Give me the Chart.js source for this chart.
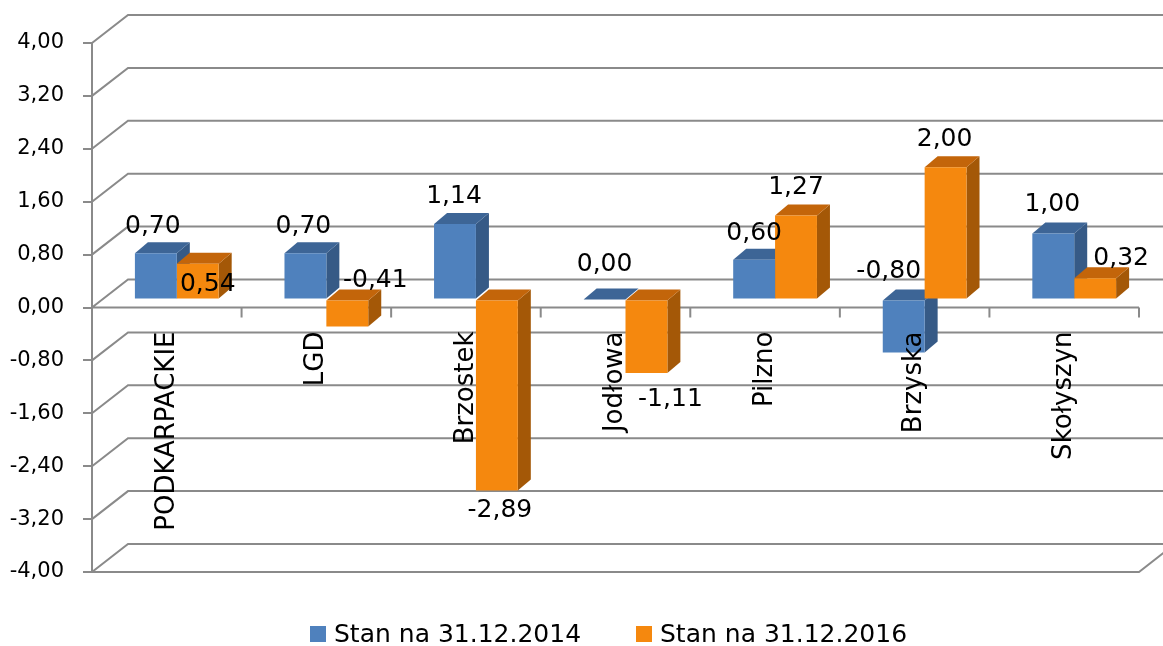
<!DOCTYPE html>
<html>
<head>
<meta charset="utf-8">
<script src="https://cdn.jsdelivr.net/npm/chart.js@4.4.1/dist/chart.umd.min.js"></script>
<style>
    html, body { margin: 0; padding: 0; background: #fff; }
    #wrap { width: 1163px; height: 646px; }
</style>
</head>
<body>
<div id="wrap"><canvas id="chart"></canvas></div>
<script>
// data
const categories = ['PODKARPACKIE', 'LGD', 'Brzostek', 'Jodłowa', 'Pilzno', 'Brzyska', 'Skołyszyn'];
const seriesNames = ['Stan na 31.12.2014', 'Stan na 31.12.2016'];
const stan2014 = [0.70, 0.70, 1.14, 0.00, 0.60, -0.80, 1.00];
const stan2016 = [0.54, -0.41, -2.89, -1.11, 1.27, 2.00, 0.32];
const yMin = -4;
const yMax = 4;
const yStep = 0.8;

// where Excel put each value label, relative to the end of its bar
const labelShift2014 = [[-3, -20], [-2, -20], [-1, -21], [0, -29], [0, -20], [-15, -74], [-1, -22]];
const labelShift2016 = [[10, 27], [28, -40], [3, 26], [24, 33], [0, -22], [-1, -21], [26, -13]];

const FONT = 'DejaVu Sans';
const GRID = '#8A8A8A';
const WALL = { dx: 36, dy: -28 };   // depth of the back wall
const SHIFT = { dx: 10, dy: -8 };   // bars stand in the middle of the floor
const BOX = { dx: 13, dy: -11 };    // depth of each bar

const faces = [
    { front: '#4F81BD', top: '#3D6596', side: '#365A86' },
    { front: '#F5880E', top: '#C3650A', side: '#A45807' }
];

const fmt = v => (Math.abs(v) < 1e-9 ? 0 : v).toFixed(2).replace('.', ',');

function drawWalls(chart) {
    const ctx = chart.ctx;
    const area = chart.chartArea;
    const y = chart.scales.y;
    ctx.save();
    ctx.strokeStyle = GRID;
    ctx.lineWidth = 2;
    ctx.beginPath();
    y.ticks.forEach(t => {
        const py = y.getPixelForValue(t.value);
        ctx.moveTo(area.left, py);
        ctx.lineTo(area.left + WALL.dx, py + WALL.dy);
        ctx.lineTo(area.right + WALL.dx, py + WALL.dy);
    });
    // floor front edge
    ctx.moveTo(area.left, area.bottom);
    ctx.lineTo(area.right, area.bottom);
    ctx.lineTo(area.right + WALL.dx, area.bottom + WALL.dy);
    // category axis at zero with its tick marks
    const zero = y.getPixelForValue(0);
    ctx.moveTo(area.left, zero);
    ctx.lineTo(area.right, zero);
    const step = (area.right - area.left) / categories.length;
    for (let i = 1; i <= categories.length; i++) {
        const px = area.left + step * i;
        ctx.moveTo(px, zero);
        ctx.lineTo(px, zero + 10);
    }
    ctx.stroke();
    ctx.restore();
}

function drawBoxSides(chart) {
    const ctx = chart.ctx;
    chart.data.datasets.forEach((ds, di) => {
        const meta = chart.getDatasetMeta(di);
        meta.data.forEach(bar => {
            const p = bar.getProps(['x', 'y', 'base', 'width'], true);
            const l = p.x - p.width / 2, r = p.x + p.width / 2;
            const top = Math.min(p.y, p.base), bottom = Math.max(p.y, p.base);
            ctx.fillStyle = faces[di].side;
            ctx.beginPath();
            ctx.moveTo(r, top);
            ctx.lineTo(r + BOX.dx, top + BOX.dy);
            ctx.lineTo(r + BOX.dx, bottom + BOX.dy);
            ctx.lineTo(r, bottom);
            ctx.closePath();
            ctx.fill();
            ctx.fillStyle = faces[di].top;
            ctx.beginPath();
            ctx.moveTo(l, top);
            ctx.lineTo(r, top);
            ctx.lineTo(r + BOX.dx, top + BOX.dy);
            ctx.lineTo(l + BOX.dx, top + BOX.dy);
            ctx.closePath();
            ctx.fill();
        });
    });
}

function drawLabels(chart) {
    const ctx = chart.ctx;
    const x = chart.scales.x;
    const zero = chart.scales.y.getPixelForValue(0);
    ctx.save();
    ctx.fillStyle = '#000';

    // value labels
    ctx.font = '25px "' + FONT + '"';
    ctx.textAlign = 'center';
    ctx.textBaseline = 'alphabetic';
    const shifts = [labelShift2014, labelShift2016];
    chart.data.datasets.forEach((ds, di) => {
        chart.getDatasetMeta(di).data.forEach((bar, i) => {
            const s = shifts[di][i];
            ctx.fillText(fmt(ds.data[i]), bar.x + SHIFT.dx + s[0], bar.y + SHIFT.dy + s[1]);
        });
    });

    // category labels, rotated, hanging under the zero line
    ctx.font = '26px "' + FONT + '"';
    ctx.textAlign = 'right';
    ctx.textBaseline = 'middle';
    categories.forEach((c, i) => {
        ctx.save();
        ctx.translate(x.getPixelForValue(i), zero + 24);
        ctx.rotate(-Math.PI / 2);
        ctx.fillText(c, 0, 0);
        ctx.restore();
    });

    // legend
    ctx.font = '25px "' + FONT + '"';
    ctx.textAlign = 'left';
    ctx.textBaseline = 'alphabetic';
    const legendX = [310, 636];
    seriesNames.forEach((name, di) => {
        ctx.fillStyle = faces[di].front;
        ctx.fillRect(legendX[di], 626, 16, 16);
        ctx.fillStyle = '#000';
        ctx.fillText(name, legendX[di] + 24, 642);
    });
    ctx.restore();
}

const box3d = {
    id: 'box3d',
    beforeDatasetsDraw(chart) {
        drawWalls(chart);
        chart.ctx.save();
        chart.ctx.translate(SHIFT.dx, SHIFT.dy);
        drawBoxSides(chart);
    },
    afterDatasetsDraw(chart) {
        chart.ctx.restore();
        drawLabels(chart);
    }
};

new Chart(document.getElementById('chart'), {
    type: 'bar',
    data: {
        labels: categories,
        datasets: [
            { label: seriesNames[0], data: stan2014, backgroundColor: faces[0].front, borderWidth: 0 },
            { label: seriesNames[1], data: stan2016, backgroundColor: faces[1].front, borderWidth: 0 }
        ]
    },
    options: {
        responsive: true,
        maintainAspectRatio: false,
        animation: false,
        layout: { padding: { left: 0, right: 24, top: 43, bottom: 74 } },
        datasets: { bar: { categoryPercentage: 0.56, barPercentage: 1 } },
        plugins: {
            legend: { display: false },
            tooltip: { enabled: false }
        },
        scales: {
            x: { display: false },
            y: {
                min: yMin,
                max: yMax,
                afterFit: scale => { scale.width = 92; },
                ticks: {
                    stepSize: yStep,
                    padding: 19,
                    color: '#000',
                    font: { family: FONT, size: 21 },
                    callback: v => fmt(v)
                },
                grid: { drawOnChartArea: false, tickLength: 9, color: GRID, lineWidth: 2 },
                border: { color: GRID, width: 2 }
            }
        }
    },
    plugins: [box3d]
});
</script>
</body>
</html>
